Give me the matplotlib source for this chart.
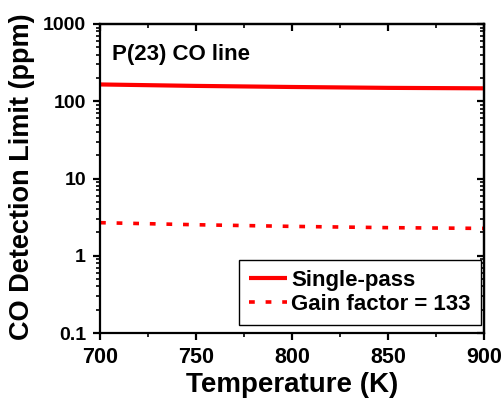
import matplotlib
matplotlib.use("Agg")
import matplotlib.pyplot as plt
from matplotlib.ticker import LogLocator, NullFormatter, FixedLocator, FixedFormatter, MultipleLocator

plt.rcParams['font.family'] = ['Liberation Sans', 'DejaVu Sans']
plt.rcParams['font.weight'] = 'bold'

temperature = [700, 750, 800, 850, 900]
single_pass = [165, 158, 153, 149, 147]
gain_133 = [2.68, 2.52, 2.40, 2.31, 2.26]

y_ticks = [0.1, 1, 10, 100, 1000]
y_labels = ['0.1', '1', '10', '100', '1000']
x_ticks = [700, 750, 800, 850, 900]

fig = plt.figure(figsize=(5.04, 4.01), dpi=100)
ax = fig.add_axes([100/504, 68/401, 384/504, 309/401])

ax.plot(temperature, single_pass, color='#ff0000', lw=3, solid_capstyle='butt', label='Single-pass')
ax.plot(temperature, gain_133, color='#ff0000', lw=2.6, dashes=(1.6, 3.0), label='Gain factor = 133')

ax.set_yscale('log')
ax.set_xlim(700, 900)
ax.set_ylim(0.1, 1000)
ax.set_xticks(x_ticks)
ax.xaxis.set_minor_locator(MultipleLocator(25))
ax.yaxis.set_major_locator(FixedLocator(y_ticks))
ax.yaxis.set_major_formatter(FixedFormatter(y_labels))
ax.yaxis.set_minor_locator(LogLocator(base=10, subs=range(2, 10)))
ax.yaxis.set_minor_formatter(NullFormatter())

for s in ax.spines.values():
    s.set_linewidth(1.6)

ax.tick_params(axis='both', which='major', direction='out', length=5, width=1.6)
ax.tick_params(axis='both', which='minor', direction='out', length=3, width=1.2)
ax.tick_params(axis='x', labelsize=15.5, pad=5)
ax.tick_params(axis='y', labelsize=14, pad=5)

secx = ax.secondary_xaxis('top')
secx.set_xticks(x_ticks)
secx.xaxis.set_minor_locator(MultipleLocator(25))
secx.tick_params(which='major', direction='in', length=5, width=1.6, labeltop=False)
secx.tick_params(which='minor', direction='in', length=3, width=1.2)
secx.spines['top'].set_linewidth(1.6)

secy = ax.secondary_yaxis('right')
secy.yaxis.set_major_locator(FixedLocator(y_ticks))
secy.yaxis.set_minor_locator(LogLocator(base=10, subs=range(2, 10)))
secy.yaxis.set_minor_formatter(NullFormatter())
secy.tick_params(which='major', direction='in', length=5, width=1.6, labelright=False)
secy.tick_params(which='minor', direction='in', length=3, width=1.2)
secy.spines['right'].set_linewidth(1.6)

ax.set_xlabel('Temperature (K)', fontsize=20, fontweight='bold')
ax.set_ylabel('CO Detection Limit (ppm)', fontsize=19.5, fontweight='bold')
ax.xaxis.set_label_coords(0.5, -0.126)
ax.yaxis.set_label_coords(-0.203, 0.506)
ax.yaxis.label.set_va('center')

ax.text(0.031, 0.90, 'P(23) CO line', transform=ax.transAxes, fontsize=16,
        fontweight='bold', va='center', ha='left')

leg = ax.legend(loc='lower right', bbox_to_anchor=(0.992, 0.026), fontsize=16,
                frameon=True, fancybox=False, edgecolor='black', framealpha=1,
                handlelength=1.7, handletextpad=0.2, borderpad=0.45,
                labelspacing=0.15, borderaxespad=0)
leg.get_frame().set_linewidth(1.0)

fig.savefig('out.png', dpi=100)
